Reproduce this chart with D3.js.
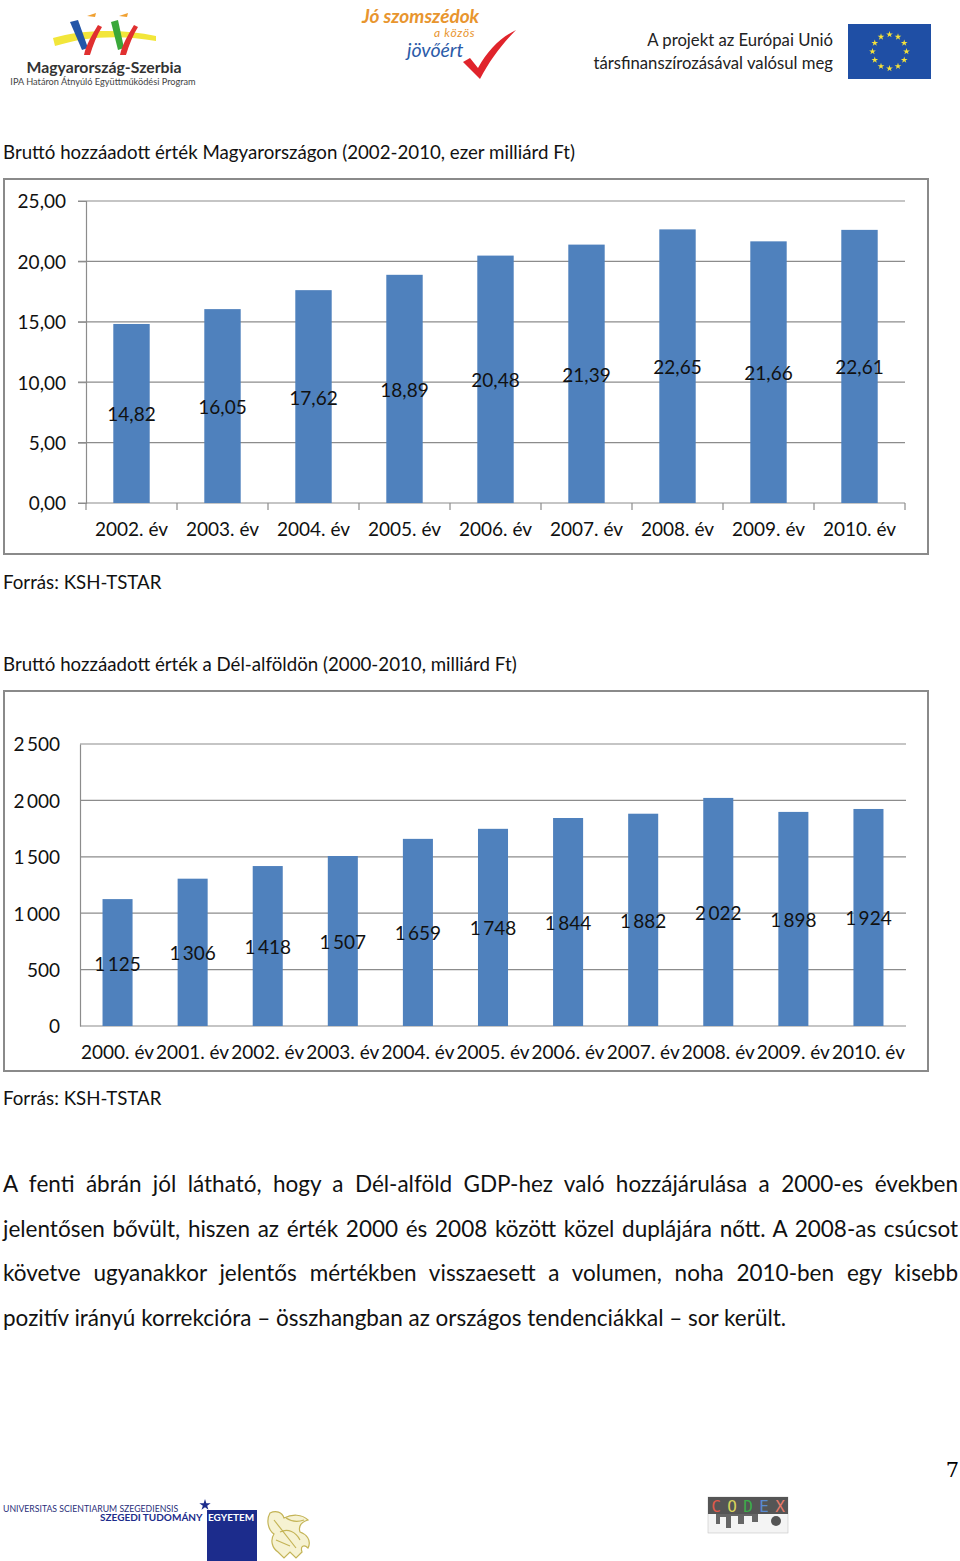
<!DOCTYPE html>
<html>
<head>
<meta charset="utf-8">
<title>Bruttó hozzáadott érték</title>
<script src="https://cdn.jsdelivr.net/npm/d3@7"></script>
<style type="text/css">
	body {
		margin: 0;
		background: white;
	}
	#page {
		position: relative;
		width: 960px;
		height: 1561px;
		overflow: hidden;
		font-family: Lato, "Open Sans", sans-serif;
		color: #111;
	}
	#page svg {
		position: absolute;
		left: 0;
		top: 0;
	}
	.txt {
		font-family: Lato, sans-serif;
		fill: #111;
	}
	.tick text {
		font-family: Lato, sans-serif;
		fill: #111;
	}
	#para {
		position: absolute;
		left: 3px;
		top: 1162px;
		width: 955px;
		font-size: 22.5px;
		line-height: 44.5px;
	}
	#para div {
		text-align: justify;
		text-align-last: justify;
		white-space: nowrap;
	}
	#para div.last {
		text-align-last: left;
	}
</style>
</head>
<body>
<div id="page">
	<svg id="canvas" width="960" height="1561"></svg>
	<div id="para"></div>
</div>

<script>

// chart 1: country level, ezer milliárd Ft
var years1 = ['2002. év', '2003. év', '2004. év', '2005. év', '2006. év', '2007. év', '2008. év', '2009. év', '2010. év'];
var values1 = [14.82, 16.05, 17.62, 18.89, 20.48, 21.39, 22.65, 21.66, 22.61];
var ticks1 = [0, 5, 10, 15, 20, 25];

// chart 2: Dél-alföld, milliárd Ft
var years2 = ['2000. év', '2001. év', '2002. év', '2003. év', '2004. év', '2005. év', '2006. év', '2007. év', '2008. év', '2009. év', '2010. év'];
var values2 = [1125, 1306, 1418, 1507, 1659, 1748, 1844, 1882, 2022, 1898, 1924];
var ticks2 = [0, 500, 1000, 1500, 2000, 2500];

var paraLines = [
	'A fenti ábrán jól látható, hogy a Dél-alföld GDP-hez való hozzájárulása a 2000-es években',
	'jelentősen bővült, hiszen az érték 2000 és 2008 között közel duplájára nőtt. A 2008-as csúcsot',
	'követve ugyanakkor jelentős mértékben visszaesett a volumen, noha 2010-ben egy kisebb',
	'pozitív irányú korrekcióra – összhangban az országos tendenciákkal – sor került.'
];

var barColor = '#4f81bd',
	gridColor = '#8c8c8c',
	frameColor = '#8a8a8a';

var svg = d3.select('#canvas');

function fmtComma(d) {
	return d3.format('.2f')(d).replace('.', ',');
}
function fmtSpace(d) {
	return d3.format(',')(d).replace(/,/g, '\u2009');
}

function drawChart(opt) {
	// frame
	svg.append('rect')
		.attr('x', opt.frame[0]).attr('y', opt.frame[1])
		.attr('width', opt.frame[2]).attr('height', opt.frame[3])
		.attr('fill', 'white')
		.attr('stroke', frameColor)
		.attr('stroke-width', 2);

	var x = d3.scaleBand().domain(opt.cats).range([opt.left, opt.right]);
	var y = d3.scaleLinear().domain([0, d3.max(opt.ticks)]).range([opt.bottom, opt.top]);

	var g = svg.append('g');

	// gridlines
	g.selectAll('.grid')
		.data(opt.ticks)
		.enter()
		.append('line')
		.attr('x1', opt.left - opt.yTick).attr('x2', opt.right)
		.attr('y1', function(d) {return y(d)}).attr('y2', function(d) {return y(d)})
		.attr('stroke', gridColor)
		.attr('stroke-width', 1.2);

	// y axis
	var yAxis = g.append('g')
		.attr('transform', 'translate(' + opt.left + ',0)')
		.call(d3.axisLeft(y).tickValues(opt.ticks).tickFormat(opt.fmt).tickSize(opt.yTick).tickPadding(opt.yPad));
	yAxis.select('.domain').attr('stroke', gridColor).attr('stroke-width', 1.2);
	yAxis.selectAll('.tick line').attr('stroke', gridColor);
	yAxis.selectAll('.tick text').style('font-size', opt.fs + 'px').attr('dy', '0.36em');

	// bars
	var bw = x.bandwidth();
	g.selectAll('.bar')
		.data(opt.vals)
		.enter()
		.append('rect')
		.attr('x', function(d, i) {return x(opt.cats[i]) + bw * 0.3})
		.attr('width', bw * 0.4)
		.attr('y', function(d) {return y(d)})
		.attr('height', function(d) {return y(0) - y(d)})
		.attr('fill', barColor);

	// x axis ticks on boundaries
	if (opt.xTick) {
		g.selectAll('.xt')
			.data(d3.range(opt.cats.length + 1))
			.enter()
			.append('line')
			.attr('x1', function(i) {return opt.left + i * bw})
			.attr('x2', function(i) {return opt.left + i * bw})
			.attr('y1', opt.bottom).attr('y2', opt.bottom + opt.xTick)
			.attr('stroke', gridColor)
			.attr('stroke-width', 1.2);
	}

	// category labels
	g.selectAll('.xl')
		.data(opt.cats)
		.enter()
		.append('text')
		.attr('class', 'txt')
		.attr('x', function(d) {return x(d) + bw / 2})
		.attr('y', opt.bottom + opt.xLab)
		.attr('text-anchor', 'middle')
		.style('font-size', opt.fs + 'px')
		.text(function(d) {return d});

	// value labels in the middle of each bar
	g.selectAll('.vl')
		.data(opt.vals)
		.enter()
		.append('text')
		.attr('class', 'txt')
		.attr('x', function(d, i) {return x(opt.cats[i]) + bw / 2})
		.attr('y', function(d) {return y(d / 2) + 8})
		.attr('text-anchor', 'middle')
		.style('font-size', opt.fs + 'px')
		.text(function(d) {return opt.fmt(d)});
}

// titles and sources
var texts = [
	['Bruttó hozzáadott érték Magyarországon (2002-2010, ezer milliárd Ft)', 3, 159],
	['Forrás: KSH-TSTAR', 3, 589],
	['Bruttó hozzáadott érték a Dél-alföldön (2000-2010, milliárd Ft)', 3, 671],
	['Forrás: KSH-TSTAR', 3, 1105]
];
svg.selectAll('.ttl')
	.data(texts)
	.enter()
	.append('text')
	.attr('class', 'txt')
	.attr('x', function(d) {return d[1]})
	.attr('y', function(d) {return d[2]})
	.style('font-size', '18.7px')
	.text(function(d) {return d[0]});

drawChart({
	frame: [4, 179, 924, 375],
	cats: years1, vals: values1, ticks: ticks1, fmt: fmtComma,
	left: 86, right: 905, top: 201, bottom: 503,
	yTick: 8, yPad: 12, xTick: 7, xLab: 33, fs: 19
});

drawChart({
	frame: [4, 691, 924, 380],
	cats: years2, vals: values2, ticks: ticks2, fmt: fmtSpace,
	left: 80, right: 906, top: 744, bottom: 1026,
	yTick: 0, yPad: 20, xTick: 0, xLab: 33, fs: 19
});

// paragraph
d3.select('#para')
	.selectAll('div')
	.data(paraLines)
	.enter()
	.append('div')
	.classed('last', function(d, i) {return i == paraLines.length - 1})
	.text(function(d) {return d});

// page number
svg.append('text')
	.attr('x', 959).attr('y', 1477)
	.attr('text-anchor', 'end')
	.style('font-family', '"DejaVu Serif", serif')
	.style('font-size', '21px')
	.text('7');

// ---- header logos ----
var hdr = svg.append('g');

// Magyarország-Szerbia logo marks
hdr.append('path').attr('d', 'M53,38 C80,30 120,28 156,36 L156,41 C120,34 82,37 55,46 Z').attr('fill', '#f2e63a');
hdr.append('path').attr('d', 'M70,22 L78,20 L88,48 L82,50 Z').attr('fill', '#2456a8');
hdr.append('path').attr('d', 'M98,25 C92,35 86,45 84,55 L90,55 C93,45 97,35 102,27 Z').attr('fill', '#e03030');
hdr.append('path').attr('d', 'M111,22 L118,20 L124,48 L118,50 Z').attr('fill', '#3aa83a');
hdr.append('path').attr('d', 'M134,25 C128,35 122,45 120,55 L126,55 C129,45 133,35 138,27 Z').attr('fill', '#e03030');
hdr.append('path').attr('d', 'M87,16 L96,13 L95,17 Z').attr('fill', '#f0a030');
hdr.append('path').attr('d', 'M119,16 L128,13 L127,17 Z').attr('fill', '#f0a030');
hdr.append('text').attr('class', 'txt').attr('x', 104).attr('y', 73).attr('text-anchor', 'middle')
	.style('font-size', '15.8px').style('font-weight', 'bold').style('fill', '#333').text('Magyarország-Szerbia');
hdr.append('text').attr('class', 'txt').attr('x', 103).attr('y', 85).attr('text-anchor', 'middle')
	.style('font-size', '9.2px').style('fill', '#444').text('IPA Határon Átnyúló Együttműködési Program');

// Jó szomszédok logo
hdr.append('text').attr('class', 'txt').attr('x', 362).attr('y', 23)
	.style('font-size', '19px').style('font-weight', 'bold').style('font-style', 'italic').style('fill', '#e8952e').text('Jó szomszédok');
hdr.append('text').attr('class', 'txt').attr('x', 434).attr('y', 37)
	.style('font-size', '12px').style('font-style', 'italic').style('letter-spacing', '0.7px').style('fill', '#e8952e').text('a közös');
hdr.append('text').attr('class', 'txt').attr('x', 407).attr('y', 57)
	.style('font-size', '19.5px').style('font-style', 'italic').style('fill', '#2b5ba8').text('jövőért');
hdr.append('path').attr('d', 'M463,62 L470,58 L478,68 C488,50 500,38 516,30 C502,44 490,60 480,79 Z').attr('fill', '#e0242c');

// EU text and flag
hdr.append('text').attr('class', 'txt').attr('x', 833).attr('y', 46).attr('text-anchor', 'end')
	.style('font-size', '16.7px').style('fill', '#222').text('A projekt az Európai Unió');
hdr.append('text').attr('class', 'txt').attr('x', 833).attr('y', 69).attr('text-anchor', 'end')
	.style('font-size', '16.7px').style('fill', '#222').text('társfinanszírozásával valósul meg');
hdr.append('rect').attr('x', 848).attr('y', 24).attr('width', 83).attr('height', 55).attr('fill', '#1f4fa5');
var star = d3.symbol().type(d3.symbolStar).size(14);
hdr.selectAll('.eustar')
	.data(d3.range(12))
	.enter()
	.append('path')
	.attr('d', star)
	.attr('fill', '#f5e23a')
	.attr('transform', function(i) {
		var a = i * Math.PI / 6;
		return 'translate(' + (889.5 + 17 * Math.sin(a)) + ',' + (51.5 - 17 * Math.cos(a)) + ')';
	});

// ---- footer logos ----
var ftr = svg.append('g');
ftr.append('text').attr('class', 'txt').attr('x', 3).attr('y', 1512)
	.style('font-size', '8.7px').style('fill', '#2a2f7a').text('UNIVERSITAS SCIENTIARUM SZEGEDIENSIS');
ftr.append('rect').attr('x', 207).attr('y', 1510).attr('width', 50).attr('height', 51).attr('fill', '#1c2c8c');
ftr.append('path').attr('d', d3.symbol().type(d3.symbolStar).size(40)).attr('transform', 'translate(205,1505)').attr('fill', '#1c2c8c');
ftr.append('text').attr('class', 'txt').attr('x', 100).attr('y', 1521)
	.style('font-size', '10px').style('font-weight', 'bold').style('fill', '#1c2c8c').text('SZEGEDI TUDOMÁNY');
ftr.append('text').attr('class', 'txt').attr('x', 208).attr('y', 1521)
	.style('font-size', '10px').style('font-weight', 'bold').style('fill', 'white').text('EGYETEM');
// griffin, roughly drawn in gold lines
ftr.append('path')
	.attr('d', 'M270,1513 C276,1510 282,1512 284,1518 C292,1514 302,1514 308,1520 C302,1522 298,1526 300,1532 C306,1534 312,1540 308,1548 C304,1544 300,1546 302,1552 L296,1558 L290,1552 L284,1558 L278,1552 C272,1548 270,1540 274,1534 C268,1530 266,1520 270,1513 Z')
	.attr('fill', '#f6f2d2').attr('stroke', '#c4b457').attr('stroke-width', 1.2);
ftr.append('path')
	.attr('d', 'M274,1520 L296,1548 M280,1532 C288,1528 296,1532 300,1540 M286,1518 C292,1522 298,1522 304,1520 M276,1540 L290,1546')
	.attr('fill', 'none').attr('stroke', '#c4b457').attr('stroke-width', 1.2);

// CODEX logo
ftr.append('rect').attr('x', 708).attr('y', 1497).attr('width', 80).attr('height', 36).attr('fill', '#f4f4f4').attr('stroke', '#bbb').attr('stroke-width', 0.5);
ftr.append('rect').attr('x', 708).attr('y', 1497).attr('width', 80).attr('height', 17).attr('fill', '#555');
var codexCol = ['#e05a4a', '#d8d25a', '#3cae4a', '#5a8ad0', '#e87a6a'];
ftr.selectAll('.cx')
	.data('CODEX'.split(''))
	.enter()
	.append('text')
	.attr('x', function(d, i) {return 716 + i * 16})
	.attr('y', 1512)
	.attr('text-anchor', 'middle')
	.style('font-family', '"DejaVu Sans Mono", monospace')
	.style('font-size', '16px')
	.style('fill', function(d, i) {return codexCol[i]})
	.text(function(d) {return d});
ftr.append('path')
	.attr('d', 'M716,1514 L716,1524 L720,1524 L720,1517 L726,1517 L726,1528 L731,1528 L731,1516 L738,1516 L738,1524 L744,1524 L744,1516 L752,1516 L752,1522 L758,1522 L758,1514 Z')
	.attr('fill', '#666');
ftr.append('circle').attr('cx', 776).attr('cy', 1521).attr('r', 5).attr('fill', '#555');

</script>
</body>
</html>
